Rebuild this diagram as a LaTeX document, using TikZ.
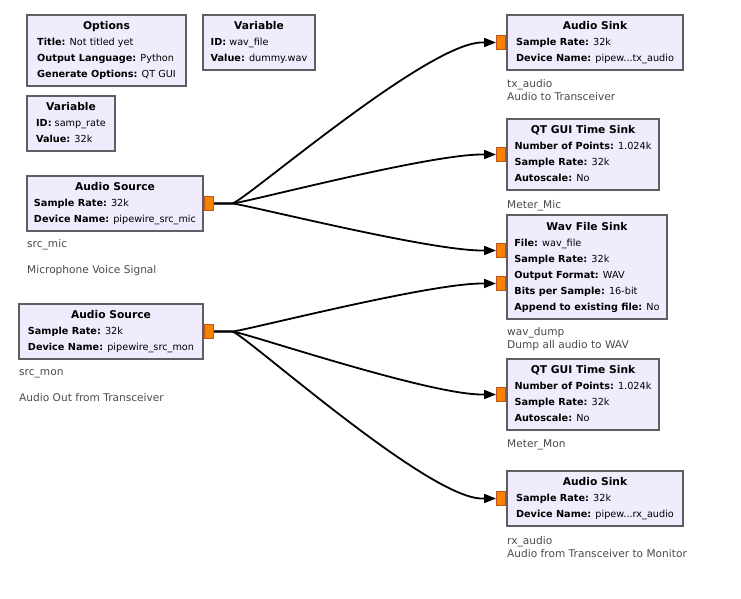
\documentclass[tikz,border=0pt]{standalone}
\usepackage{fontspec}
\setmainfont{DejaVu Sans}
\usetikzlibrary{arrows.meta}
\definecolor{blkfill}{HTML}{F0ECFE}
\definecolor{blkdraw}{HTML}{5F5F63}
\definecolor{portfill}{HTML}{F58200}
\definecolor{portdraw}{HTML}{C0561C}
\definecolor{cmt}{HTML}{4A4A4A}
\newcommand{\blkttl}[1]{\multicolumn{1}{c}{\fontsize{10.7}{16}\selectfont\bfseries #1}}
\newcommand{\prm}[2]{{\bfseries #1:} #2}
\tikzset{
 blk/.style={draw=blkdraw, fill=blkfill, line width=2pt, rectangle, anchor=north west, inner sep=0pt, font=\fontsize{9.7}{16}\selectfont},
 port/.style={draw=portdraw, fill=portfill, line width=1pt, minimum width=9pt, minimum height=14pt, inner sep=0pt},
 cmtext/.style={anchor=west, inner sep=0pt, text=cmt, text height=7.7pt, text depth=0pt, font=\fontsize{10.6}{13}\selectfont},
 conn/.style={line width=1.8pt, -{Triangle[length=12pt,width=9pt]}},
}
\begin{document}
\begin{tikzpicture}[x=1pt,y=-1pt]
\fill[white] (0,0) rectangle (741,599);
\useasboundingbox (0,0) rectangle (741,599);

% blocks
\node[blk, minimum width=159pt, minimum height=71pt] (opt) at (26,14)
 {\begin{tabular}{@{}l@{}}\blkttl{Options}\\ \prm{Title}{Not titled yet}\\ \prm{Output Language}{Python}\\ \prm{Generate Options}{QT GUI}\end{tabular}};
\node[blk, minimum width=112pt, minimum height=55pt] (varwav) at (202,14)
 {\begin{tabular}{@{}l@{}}\blkttl{Variable}\\ \prm{ID}{wav\_file}\\ \prm{Value}{dummy.wav}\end{tabular}};
\node[blk, minimum width=88pt, minimum height=55pt] (varsr) at (26,95)
 {\begin{tabular}{@{}l@{}}\blkttl{Variable}\\ \prm{ID}{samp\_rate}\\ \prm{Value}{32k}\end{tabular}};
\node[blk, minimum width=176pt, minimum height=55pt] (srcmic) at (26,175)
 {\begin{tabular}{@{}l@{}}\blkttl{Audio Source}\\ \prm{Sample Rate}{32k}\\ \prm{Device Name}{pipewire\_src\_mic}\end{tabular}};
\node[blk, minimum width=184pt, minimum height=55pt] (srcmon) at (18,303)
 {\begin{tabular}{@{}l@{}}\blkttl{Audio Source}\\ \prm{Sample Rate}{32k}\\ \prm{Device Name}{pipewire\_src\_mon}\end{tabular}};
\node[blk, minimum width=176pt, minimum height=55pt] (txsink) at (506,14)
 {\begin{tabular}{@{}l@{}}\blkttl{Audio Sink}\\ \prm{Sample Rate}{32k}\\ \prm{Device Name}{pipew...tx\_audio}\end{tabular}};
\node[blk, minimum width=152pt, minimum height=71pt] (metmic) at (506,118)
 {\begin{tabular}{@{}l@{}}\blkttl{QT GUI Time Sink}\\ \prm{Number of Points}{1.024k}\\ \prm{Sample Rate}{32k}\\ \prm{Autoscale}{No}\end{tabular}};
\node[blk, minimum width=160pt, minimum height=104pt] (wav) at (506,214)
 {\begin{tabular}{@{}l@{}}\blkttl{Wav File Sink}\\ \prm{File}{wav\_file}\\ \prm{Sample Rate}{32k}\\ \prm{Output Format}{WAV}\\ \prm{Bits per Sample}{16-bit}\\ \prm{Append to existing file}{No}\end{tabular}};
\node[blk, minimum width=152pt, minimum height=71pt] (metmon) at (506,358)
 {\begin{tabular}{@{}l@{}}\blkttl{QT GUI Time Sink}\\ \prm{Number of Points}{1.024k}\\ \prm{Sample Rate}{32k}\\ \prm{Autoscale}{No}\end{tabular}};
\node[blk, minimum width=176pt, minimum height=55pt] (rxsink) at (506,470)
 {\begin{tabular}{@{}l@{}}\blkttl{Audio Sink}\\ \prm{Sample Rate}{32k}\\ \prm{Device Name}{pipew...rx\_audio}\end{tabular}};

% ports
\node[port, anchor=west] (pmic) at (srcmic.east) {};
\node[port, anchor=west] (pmon) at (srcmon.east) {};
\node[port, anchor=east] (ptx) at (txsink.west) {};
\node[port, anchor=east] (pmetmic) at (metmic.west) {};
\node[port, anchor=east] (pwav1) at ([yshift=16.5pt]wav.west) {};
\node[port, anchor=east] (pwav2) at ([yshift=-16.5pt]wav.west) {};
\node[port, anchor=east] (pmetmon) at (metmon.west) {};
\node[port, anchor=east] (prx) at (rxsink.west) {};

% comments
\node[cmtext] (c1) at (27,244) {src\_mic};
\node[cmtext] (c2) at (27,270) {Microphone Voice Signal};
\node[cmtext] (c3) at (19,372) {src\_mon};
\node[cmtext] (c4) at (19,398) {Audio Out from Transceiver};
\node[cmtext] (c5) at (507,84) {tx\_audio};
\node[cmtext] (c6) at (507,97) {Audio to Transceiver};
\node[cmtext] (c7) at (507,205) {Meter\_Mic};
\node[cmtext] (c8) at (507,332) {wav\_dump};
\node[cmtext] (c9) at (507,345) {Dump all audio to WAV};
\node[cmtext] (c10) at (507,444) {Meter\_Mon};
\node[cmtext] (c11) at (507,541) {rx\_audio};
\node[cmtext] (c12) at (507,554) {Audio from Transceiver to Monitor};

% connections
\foreach \s/\t in {pmic/ptx, pmic/pmetmic, pmic/pwav1, pmon/pwav2, pmon/pmetmon, pmon/prx}{
  \draw[conn] (\s.east) -- ++(18,0) .. controls +(10,0) and +(-55,0) .. ([xshift=-14pt]\t.west) -- (\t.west);
}
\end{tikzpicture}
\end{document}
